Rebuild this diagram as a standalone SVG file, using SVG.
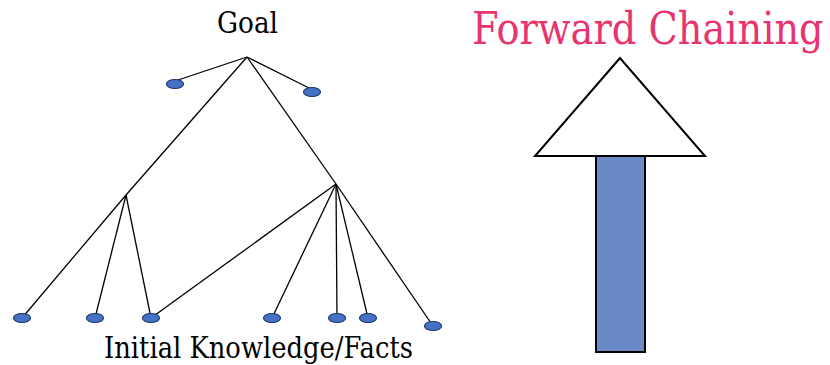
<svg xmlns="http://www.w3.org/2000/svg" width="830" height="365" viewBox="0 0 830 365">
<style>
.lbl{fill:#000;font-family:"DejaVu Serif","Liberation Serif",serif}
.title{fill:#E8336F;font-family:"DejaVu Serif","Liberation Serif",serif}
.edge{stroke:#000;stroke-width:1.3;fill:none}
.leaf{fill:#4472C4;stroke:#1F3A6E;stroke-width:1.2}
</style>
<rect width="830" height="365" fill="#fff"/>
<g id="title"><text class="title" transform="translate(472,44) scale(1,1.15)" x="0" y="0" font-size="38.3">Forward Chaining</text></g>
<g id="goal"><text class="lbl" x="217" y="33" font-size="29" textLength="61" lengthAdjust="spacingAndGlyphs">Goal</text></g>
<g id="facts"><text class="lbl" x="104" y="358" font-size="30" textLength="309" lengthAdjust="spacingAndGlyphs">Initial Knowledge/Facts</text></g>
<g id="connectors">
<line class="edge" x1="247" y1="57" x2="178" y2="80"/>
<line class="edge" x1="247" y1="57" x2="309" y2="88"/>
<line class="edge" x1="247" y1="57" x2="126" y2="195"/>
<line class="edge" x1="247" y1="57" x2="336" y2="184"/>
<line class="edge" x1="126" y1="195" x2="22" y2="318"/>
<line class="edge" x1="126" y1="195" x2="95" y2="318"/>
<line class="edge" x1="126" y1="195" x2="151" y2="318"/>
<line class="edge" x1="336" y1="184" x2="151" y2="318"/>
<line class="edge" x1="336" y1="184" x2="272" y2="318"/>
<line class="edge" x1="336" y1="184" x2="337" y2="318"/>
<line class="edge" x1="336" y1="184" x2="368" y2="318"/>
<line class="edge" x1="336" y1="184" x2="433" y2="326"/>
</g>
<g id="n1"><ellipse class="leaf" cx="175" cy="84" rx="8.5" ry="4.5"/></g>
<g id="n2"><ellipse class="leaf" cx="312" cy="92" rx="8.5" ry="4.5"/></g>
<g id="l1"><ellipse class="leaf" cx="22" cy="318" rx="8.5" ry="4.5"/></g>
<g id="l2"><ellipse class="leaf" cx="95" cy="318" rx="8.5" ry="4.5"/></g>
<g id="l3"><ellipse class="leaf" cx="151" cy="318" rx="8.5" ry="4.5"/></g>
<g id="l4"><ellipse class="leaf" cx="272" cy="318" rx="8.5" ry="4.5"/></g>
<g id="l5"><ellipse class="leaf" cx="337" cy="318" rx="8.5" ry="4.5"/></g>
<g id="l6"><ellipse class="leaf" cx="368" cy="318" rx="8.5" ry="4.5"/></g>
<g id="l7"><ellipse class="leaf" cx="433" cy="326" rx="8.5" ry="4.5"/></g>
<g id="arrow">
<polygon points="620,58 535,156 705,156" fill="#fff" stroke="#000" stroke-width="2"/>
<rect x="596" y="156" width="49" height="196" fill="#6A8AC6" stroke="#000" stroke-width="2"/>
</g>
</svg>
